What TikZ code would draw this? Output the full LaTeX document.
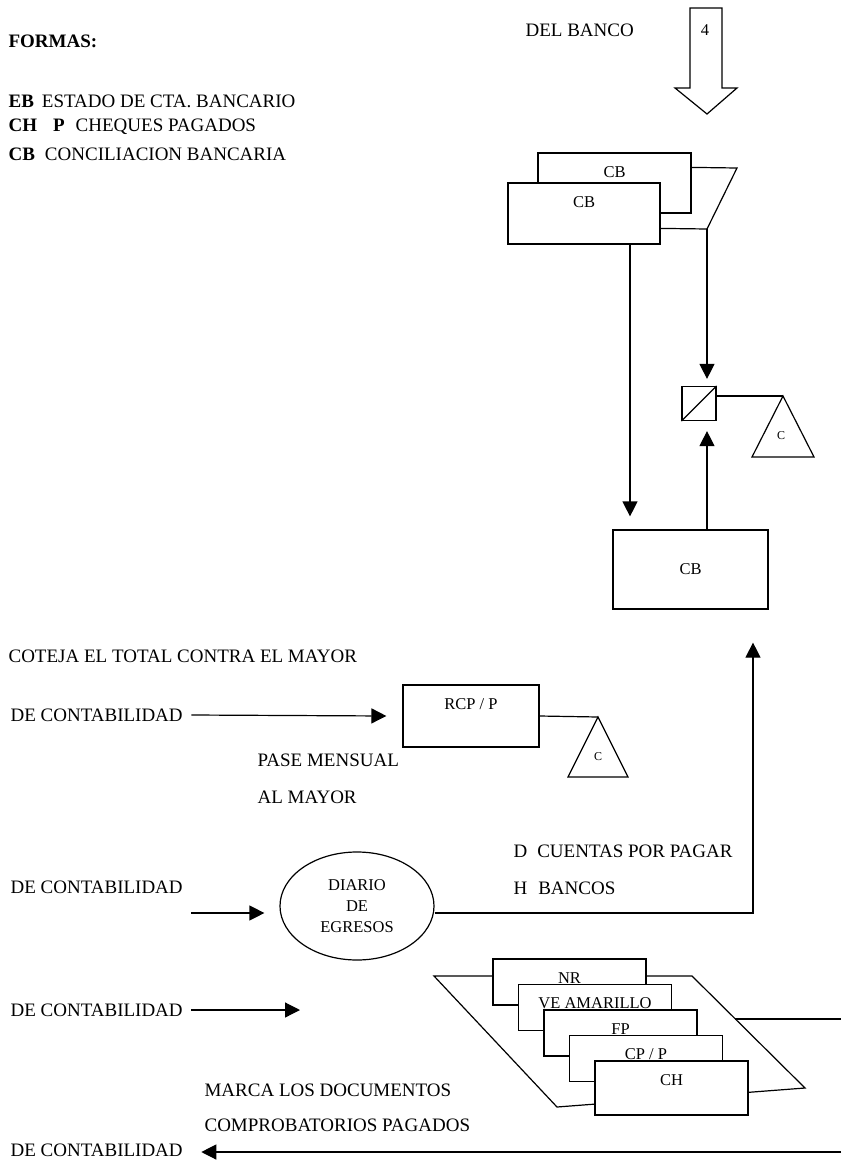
\documentclass[tikz,border=0pt]{standalone}
\usepackage{fontspec}
\setmainfont{Liberation Serif}
\usetikzlibrary{arrows.meta,shapes.geometric,positioning}

\tikzset{
  flow/.style={-{Triangle[length=15pt,width=15pt]}},
  bigtxt/.style={anchor=west, inner sep=0pt, font=\fontsize{19}{22}\selectfont},
  smalltxt/.style={font=\fontsize{16.5}{21}\selectfont},
  marktxt/.style={font=\fontsize{12}{14}\selectfont, inner sep=0pt},
  formbox/.style={draw, fill=white, inner sep=0pt},
  docbox/.style={formbox, minimum width=153pt, minimum height=46pt},
  toplabel/.style={label={[smalltxt,anchor=north,inner sep=0pt,yshift=-13.5pt]north:#1}},
}

\begin{document}
\begin{tikzpicture}[x=1pt, y=-1pt, line width=1.2pt]
\useasboundingbox (0,0) rectangle (841,1161);

% legend
\node[bigtxt] (formas) at (8,41) {\textbf{FORMAS:}};
\node[bigtxt] (leb) at (8,101) {\textbf{EB}\hspace{8pt}ESTADO DE CTA. BANCARIO};
\node[bigtxt] (lch) at (8,127) {\textbf{CH\hspace{16pt}P}\hspace{11pt}CHEQUES PAGADOS};
\node[bigtxt] (lcb) at (8,154) {\textbf{CB}\hspace{10pt}CONCILIACION BANCARIA};

% from the bank
\node[bigtxt] (banco) at (525,30) {DEL BANCO};
\draw (690,8) -- (722,8) -- (722,88) -- (737,88) -- (707,114) -- (675,88) -- (690,88) -- cycle;
\node[smalltxt, inner sep=0pt] (num) at (705,30) {4};

% conciliacion
\node[formbox, minimum width=153pt, minimum height=60pt, toplabel=CB] (cbback) at (614.5,183) {};
\node[formbox, minimum width=152pt, minimum height=61pt, toplabel=CB] (cbfront) at (584,213.5) {};
\draw ([yshift=-15pt]cbback.north east) -- (737,168) -- (707,229) coordinate (cbfold)
  -- ([yshift=-46pt]cbfront.north east);

\node[draw, minimum size=34pt, inner sep=0pt] (chk) at (699,403.5) {};
\draw (chk.south west) -- (chk.north east);
\coordinate (ctop1) at (783,396);
\draw (ctop1) -- (752,457) -- (814,457) -- cycle;
\node[marktxt] (cmark1) at (781,436) {C};
\draw ([yshift=7.5pt]chk.east) -- (ctop1);

\node[formbox, minimum width=155pt, minimum height=79pt, smalltxt] (cblow) at (690.5,569.5) {CB};

\draw[flow] (cbfold) -- ([xshift=8pt,yshift=7pt]chk.north);
\draw[flow] ([xshift=46pt]cbfront.south) -- ([xshift=-60.5pt,yshift=13pt]cblow.north);
\draw[flow] ([xshift=16.5pt]cblow.north) -- ([xshift=8pt,yshift=-10pt]chk.south);

% pase al mayor
\node[bigtxt] (coteja) at (8,656) {COTEJA EL TOTAL CONTRA EL MAYOR};
\node[bigtxt] (cont1) at (10,715) {DE CONTABILIDAD};
\node[formbox, minimum width=136pt, minimum height=62pt, toplabel={RCP / P}] (rcp) at (471,716) {};
\coordinate (ctop2) at (598,717);
\draw (ctop2) -- (568,777) -- (628,777) -- cycle;
\node[marktxt] (cmark2) at (598,757) {C};
\draw (rcp.east) -- (ctop2);
\draw[flow] ([xshift=8pt]cont1.east) -- ([xshift=-16pt]rcp.west);
\node[bigtxt] (pase) at (257,760) {PASE MENSUAL};
\node[bigtxt] (almayor) at (257,797) {AL MAYOR};

% diario de egresos
\node[bigtxt] (cont2) at (10,887) {DE CONTABILIDAD};
\node[ellipse, draw, minimum width=154pt, minimum height=108pt, inner sep=0pt,
  align=center, smalltxt] (diario) at (357,906) {DIARIO\\DE\\EGRESOS};
\draw[flow] ([xshift=8pt,yshift=-26pt]cont2.east) -- ([xshift=-15pt,yshift=-7pt]diario.west);
\draw[flow] ([yshift=-7pt]diario.east) -| ([xshift=62.5pt,yshift=-33pt]cblow.south);
\node[bigtxt] (debe) at (513,851) {D\hspace{10pt}CUENTAS POR PAGAR};
\node[bigtxt] (haber) at (513,888) {H\hspace{11pt}BANCOS};

% documentos comprobatorios
\node[bigtxt] (cont3) at (10,1010) {DE CONTABILIDAD};
\coordinate (pin3) at (300,1010);
\draw[flow] ([xshift=8pt]cont3.east) -- (pin3);
\draw (434,976) -- (692,976) -- (805,1088) -- (557,1107) -- cycle;
\coordinate (pout) at (841,1019);
\draw (735,1019) -- (pout);
\foreach \lbl [count=\i from 0] in {NR, VE AMARILLO, FP, CP / P}
  \node[docbox, toplabel=\lbl] (doc\i) at (569.5+25.5*\i, 982+25.5*\i) {};
\node[docbox, minimum height=54pt, toplabel=CH] (docch) at (671.5,1088) {};
\node[bigtxt] (marca) at (204,1090) {MARCA LOS DOCUMENTOS};
\node[bigtxt] (compro) at (204,1125) {COMPROBATORIOS PAGADOS};

% regreso
\node[bigtxt] (cont4) at (10,1150) {DE CONTABILIDAD};
\coordinate (pret) at (841,1152);
\draw[flow] (pret) -- ([xshift=18pt]cont4.east |- pret);
\end{tikzpicture}
\end{document}
